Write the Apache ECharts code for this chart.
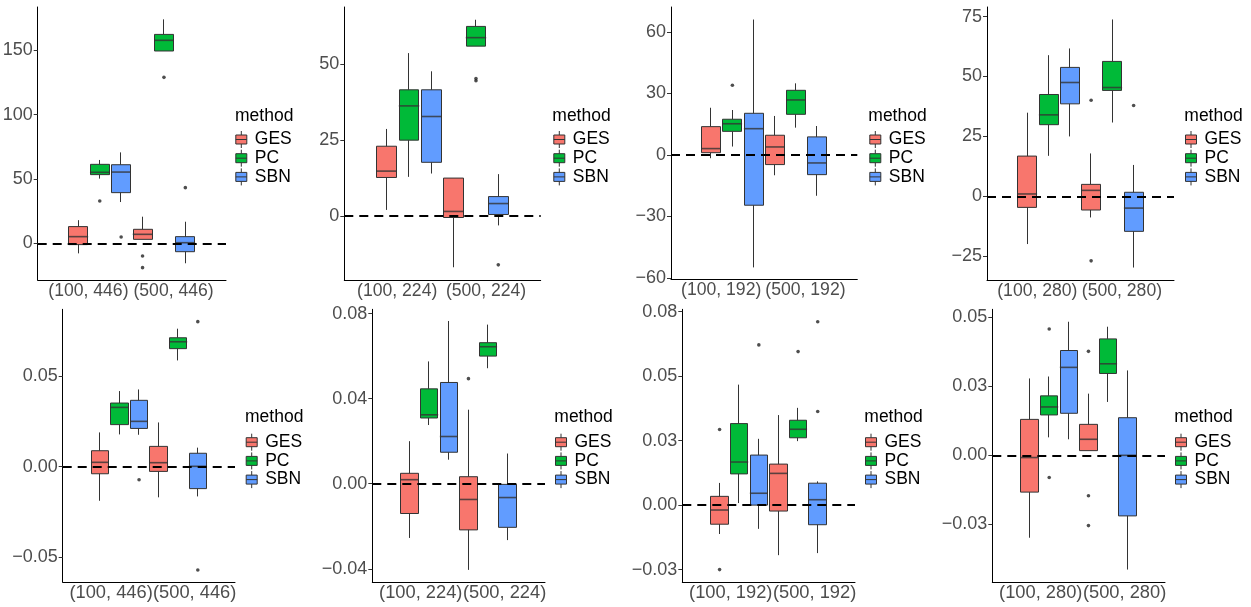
<!DOCTYPE html>
<html><head><meta charset="utf-8">
<script src="https://cdn.jsdelivr.net/npm/echarts@6/dist/echarts.min.js"></script>
<style>html,body{margin:0;padding:0;background:#fff}#c{width:1251px;height:607px}</style>
</head><body><div id="c"></div>
<script>
// ---------------- DATA ----------------
const methods = ['GES', 'PC', 'SBN'];
// box stats per setting: [lower whisker, Q1, median, Q3, upper whisker]
const p1Categories = ['(100, 446)', '(500, 446)'];
const p1GES = [[-7.8, -1, 5.2, 13, 18], [3.1, 3.1, 7, 10.9, 20.7]];
const p1PC  = [[50.3, 53.4, 55.2, 61.4, 64.8], [149.5, 149.5, 157.8, 162.4, 174.1]];
const p1SBN = [[32.1, 39.4, 55.4, 61.1, 70.7], [-15.5, -6.5, 0.5, 5.2, 16.8]];
const p1Outliers = [[0, 'PC', 32.9], [0, 'SBN', 4.9], [1, 'GES', -9.8], [1, 'GES', -18.9], [1, 'PC', 129], [1, 'SBN', 43.3]];
const p1YTicks = [0, 50, 100, 150];
const p1YTickLabels = ['0', '50', '100', '150'];
const p1YRange = [-28.5, 183.7];

const p2Categories = ['(100, 224)', '(500, 224)'];
const p2GES = [[2, 12.7, 14.8, 23, 28.7], [-16.9, -0.5, 1.5, 12.5, 12.5]];
const p2PC  = [[12.9, 25, 36.3, 41.6, 53.7], [56, 56, 58.8, 62.5, 64.7]];
const p2SBN = [[14, 17.7, 32.8, 41.6, 47.7], [-3.1, 0.5, 4.1, 6.4, 13.8]];
const p2Outliers = [[1, 'PC', 45.3], [1, 'PC', 44.6], [1, 'SBN', -16.1]];
const p2YTicks = [0, 25, 50];
const p2YTickLabels = ['0', '25', '50'];
const p2YRange = [-21.1, 68.9];

const p3Categories = ['(100, 192)', '(500, 192)'];
const p3GES = [[-1.6, 1.1, 3.1, 13.8, 23], [-9.9, -4.7, 3.9, 9.6, 19]];
const p3PC  = [[4.1, 11.5, 15.2, 17.4, 21.9], [13.3, 19.8, 26.8, 31.5, 34.9]];
const p3SBN = [[-54.8, -24.5, 12.8, 20.3, 66], [-19.9, -9.6, -3.9, 8.8, 14.1]];
const p3Outliers = [[0, 'PC', 34]];
const p3YTicks = [-60, -30, 0, 30, 60];
const p3YTickLabels = ['\u221260', '\u221230', '0', '30', '60'];
const p3YRange = [-60.7, 72.1];

const p4Categories = ['(100, 280)', '(500, 280)'];
const p4GES = [[-19.9, -4.6, 1, 16.8, 34.9], [-8.8, -5.7, 2.5, 5, 17.9]];
const p4PC  = [[16.9, 29.9, 34, 42.5, 58.9], [30.8, 44.2, 45.4, 56.3, 73.8]];
const p4SBN = [[25, 38.6, 47.5, 53.8, 61.7], [-29.7, -14.6, -4.9, 1.7, 13.1]];
const p4Outliers = [[1, 'GES', 40.1], [1, 'GES', -26.9], [1, 'SBN', 37.9]];
const p4YTicks = [-25, 0, 25, 50, 75];
const p4YTickLabels = ['\u221225', '0', '25', '50', '75'];
const p4YRange = [-34.9, 79];

const p5Categories = ['(100, 446)', '(500, 446)'];
const p5GES = [[-0.0188, -0.0039, 0.0024, 0.0088, 0.0189], [-0.0169, -0.0026, 0.0022, 0.0112, 0.0244]];
const p5PC  = [[0.0178, 0.0232, 0.0327, 0.0351, 0.0417], [0.0586, 0.0651, 0.0689, 0.0711, 0.0761]];
const p5SBN = [[0.0176, 0.0211, 0.025, 0.0366, 0.0426], [-0.0164, -0.0121, 0.0002, 0.0074, 0.0105]];
const p5Outliers = [[0, 'SBN', -0.0072], [1, 'SBN', 0.08], [1, 'SBN', -0.057]];
const p5YTicks = [-0.05, 0, 0.05];
const p5YTickLabels = ['\u22120.05', '0.00', '0.05'];
const p5YRange = [-0.0636, 0.0868];

const p6Categories = ['(100, 224)', '(500, 224)'];
const p6GES = [[-0.0255, -0.014, 0.0019, 0.0049, 0.02], [-0.0405, -0.0217, -0.0074, 0.0033, 0.0348]];
const p6PC  = [[0.0276, 0.0309, 0.0324, 0.0446, 0.0575], [0.0543, 0.06, 0.0644, 0.0663, 0.0748]];
const p6SBN = [[0.0113, 0.0148, 0.0222, 0.0476, 0.0765], [-0.0265, -0.0205, -0.0065, -0.0003, 0.0142]];
const p6Outliers = [[1, 'GES', 0.0494]];
const p6YTicks = [-0.04, 0, 0.04, 0.08];
const p6YTickLabels = ['\u22120.04', '0.00', '0.04', '0.08'];
const p6YRange = [-0.0462, 0.082];

const p7Categories = ['(100, 192)', '(500, 192)'];
const p7GES = [[-0.0112, -0.0074, -0.0019, 0.0034, 0.0086], [-0.0194, -0.0023, 0.0123, 0.0159, 0.0349]];
const p7PC  = [[0.0008, 0.0121, 0.0167, 0.0316, 0.0467], [0.0248, 0.0261, 0.0294, 0.0329, 0.0377]];
const p7SBN = [[-0.0092, 0, 0.0046, 0.0194, 0.0257], [-0.0186, -0.0076, 0.0021, 0.0085, 0.0092]];
const p7Outliers = [[0, 'GES', 0.0293], [0, 'GES', -0.025], [0, 'SBN', 0.0621], [1, 'PC', 0.0595], [1, 'SBN', 0.0711], [1, 'SBN', 0.0363]];
const p7YTicks = [-0.025, 0, 0.025, 0.05, 0.075];
const p7YTickLabels = ['\u22120.03', '0.00', '0.03', '0.05', '0.08'];
const p7YRange = [-0.0298, 0.0759];

const p8Categories = ['(100, 280)', '(500, 280)'];
const p8GES = [[-0.0298, -0.0133, -0.0008, 0.013, 0.0278], [0.0017, 0.0017, 0.0058, 0.0112, 0.0223]];
const p8PC  = [[0.0065, 0.0146, 0.0175, 0.0215, 0.0285], [0.0193, 0.0296, 0.0331, 0.0421, 0.0465]];
const p8SBN = [[0.0058, 0.0152, 0.0318, 0.0379, 0.0483], [-0.0413, -0.0219, 0, 0.0136, 0.0307]];
const p8Outliers = [[0, 'PC', 0.0457], [0, 'PC', -0.008], [1, 'GES', 0.0376], [1, 'GES', -0.0146], [1, 'GES', -0.0254]];
const p8YTicks = [-0.025, 0, 0.025, 0.05];
const p8YTickLabels = ['\u22120.03', '0.00', '0.03', '0.05'];
const p8YRange = [-0.0458, 0.0528];

// ---------------- LAYOUT / STYLE ----------------
const colors = { GES: '#F8766D', PC: '#00BA38', SBN: '#619CFF' };
const FONT = 'Liberation Sans, Arial, sans-serif';
const panels = [
  { cats: p1Categories, stats: [p1GES, p1PC, p1SBN], out: p1Outliers, ticks: p1YTicks, tickLabels: p1YTickLabels, range: p1YRange },
  { cats: p2Categories, stats: [p2GES, p2PC, p2SBN], out: p2Outliers, ticks: p2YTicks, tickLabels: p2YTickLabels, range: p2YRange },
  { cats: p3Categories, stats: [p3GES, p3PC, p3SBN], out: p3Outliers, ticks: p3YTicks, tickLabels: p3YTickLabels, range: p3YRange },
  { cats: p4Categories, stats: [p4GES, p4PC, p4SBN], out: p4Outliers, ticks: p4YTicks, tickLabels: p4YTickLabels, range: p4YRange },
  { cats: p5Categories, stats: [p5GES, p5PC, p5SBN], out: p5Outliers, ticks: p5YTicks, tickLabels: p5YTickLabels, range: p5YRange },
  { cats: p6Categories, stats: [p6GES, p6PC, p6SBN], out: p6Outliers, ticks: p6YTicks, tickLabels: p6YTickLabels, range: p6YRange },
  { cats: p7Categories, stats: [p7GES, p7PC, p7SBN], out: p7Outliers, ticks: p7YTicks, tickLabels: p7YTickLabels, range: p7YRange },
  { cats: p8Categories, stats: [p8GES, p8PC, p8SBN], out: p8Outliers, ticks: p8YTicks, tickLabels: p8YTickLabels, range: p8YRange }
];
const layouts = [
  { left: 37.7, top: 7, width: 188.3, height: 273, legendLeft: 235.3, titleLeft: 235, row: 0 },
  { left: 344.3, top: 7, width: 196.4, height: 273, legendLeft: 553.3, titleLeft: 552.3, row: 0 },
  { left: 671, top: 7, width: 186.3, height: 272.5, legendLeft: 869.3, titleLeft: 868.3, row: 0 },
  { left: 987, top: 7, width: 187, height: 273, legendLeft: 1185, titleLeft: 1184.3, row: 0 },
  { left: 62.7, top: 309.3, width: 172.3, height: 272.7, legendLeft: 245.7, titleLeft: 245, row: 1 },
  { left: 372.3, top: 309.3, width: 172.7, height: 272.7, legendLeft: 555, titleLeft: 554.3, row: 1 },
  { left: 682.3, top: 309.3, width: 172.7, height: 272.7, legendLeft: 865, titleLeft: 864.3, row: 1 },
  { left: 992.3, top: 309.3, width: 172.7, height: 272.7, legendLeft: 1175, titleLeft: 1174.3, row: 1 }
];
const xRange = [-0.9, 7.9];                 // box slots 1..6, axis padding
const labelSlots = [[1.47, 5.45], [1.57, 5.84]]; // label placement per row
const xLabelSize = [17.6, 18.3];
const legendTop = [130.5, 433.2];
const titleTop = [105.7, 407.3];
const keyIcon = 'path://M5.5,0L5.5,4M0,4L11,4L11,13L0,13ZM0,8.5L11,8.5M5.5,13L5.5,17';

function slot(s, m) { return 1 + 3 * s + m; }

const option = {
  animation: false,
  backgroundColor: '#fff',
  grid: [], xAxis: [], yAxis: [], series: [], legend: [], title: []
};

panels.forEach((P, p) => {
  const L = layouts[p];
  const boxPx = 0.915 * L.width / (xRange[1] - xRange[0]);
  const lab = labelSlots[L.row];
  option.grid.push({ left: L.left, top: L.top, width: L.width, height: L.height, containLabel: false, outerBoundsMode: 'none' });
  option.xAxis.push({
    gridIndex: p, type: 'value', min: xRange[0], max: xRange[1],
    axisLine: { show: true, onZero: false, lineStyle: { color: '#000', width: 1 } },
    axisTick: { show: false }, splitLine: { show: false },
    axisLabel: {
      customValues: lab, margin: 2, fontSize: xLabelSize[L.row], color: '#4D4D4D', fontFamily: FONT,
      hideOverlap: false, showMinLabel: true, showMaxLabel: true,
      formatter: v => { const i = lab.findIndex(x => Math.abs(x - v) < 1e-6); return i >= 0 ? P.cats[i] : ''; }
    }
  });
  option.yAxis.push({
    gridIndex: p, type: 'value', min: P.range[0], max: P.range[1],
    axisLine: { show: true, onZero: false, lineStyle: { color: '#000', width: 1 } },
    axisTick: { show: true, length: 4, customValues: P.ticks, lineStyle: { color: '#333' } },
    splitLine: { show: false },
    axisLabel: {
      customValues: P.ticks, margin: 5, fontSize: 18, color: '#4D4D4D', fontFamily: FONT,
      hideOverlap: false, showMinLabel: true, showMaxLabel: true,
      formatter: v => { const i = P.ticks.findIndex(x => Math.abs(x - v) < 1e-9); return i >= 0 ? P.tickLabels[i] : ''; }
    }
  });
  methods.forEach((m, mi) => {
    const st = P.stats[mi];
    option.series.push({
      type: 'candlestick', name: m, xAxisIndex: p, yAxisIndex: p, z: 2,
      barWidth: (100 * boxPx / (L.width / 2)).toFixed(3) + '%',
      itemStyle: { color: colors[m], color0: colors[m], borderColor: '#333', borderColor0: '#333', borderWidth: 1 },
      emphasis: { disabled: true },
      data: st.map((b, s) => [slot(s, mi), b[1], b[3], b[0], b[4]])
    });
    option.series.push({
      type: 'scatter', name: m + ' median', xAxisIndex: p, yAxisIndex: p, z: 3, silent: true,
      symbol: 'rect', symbolSize: [boxPx, 1.6], itemStyle: { color: '#333' },
      data: st.map((b, s) => [slot(s, mi), b[2]])
    });
  });
  option.series.push({
    type: 'scatter', name: 'outliers', xAxisIndex: p, yAxisIndex: p, z: 4, silent: true,
    symbol: 'circle', symbolSize: 3.6, itemStyle: { color: '#222' },
    data: P.out.map(o => [slot(o[0], methods.indexOf(o[1])), o[2]]),
    markLine: {
      silent: true, symbol: 'none', z: 5, label: { show: false },
      lineStyle: { color: '#000', width: 2, type: [9, 6] },
      data: [{ yAxis: 0 }]
    }
  });
  option.legend.push({
    orient: 'vertical', left: L.legendLeft, top: legendTop[L.row], padding: 0,
    itemWidth: 11, itemHeight: 17, itemGap: 0.7, icon: keyIcon, selectedMode: false,
    data: methods,
    itemStyle: { borderColor: '#333', borderWidth: 1 },
    textStyle: { fontSize: 17.5, color: '#000', fontFamily: FONT, padding: [0, 0, 0, 3] }
  });
  option.title.push({
    text: 'method', left: L.titleLeft, top: titleTop[L.row], padding: 0,
    textStyle: { fontSize: 17.5, lineHeight: 20, fontWeight: 'normal', color: '#000', fontFamily: FONT }
  });
});

const chart = echarts.init(document.getElementById('c'), null, { renderer: 'canvas' });
chart.setOption(option);
</script>
</body></html>
